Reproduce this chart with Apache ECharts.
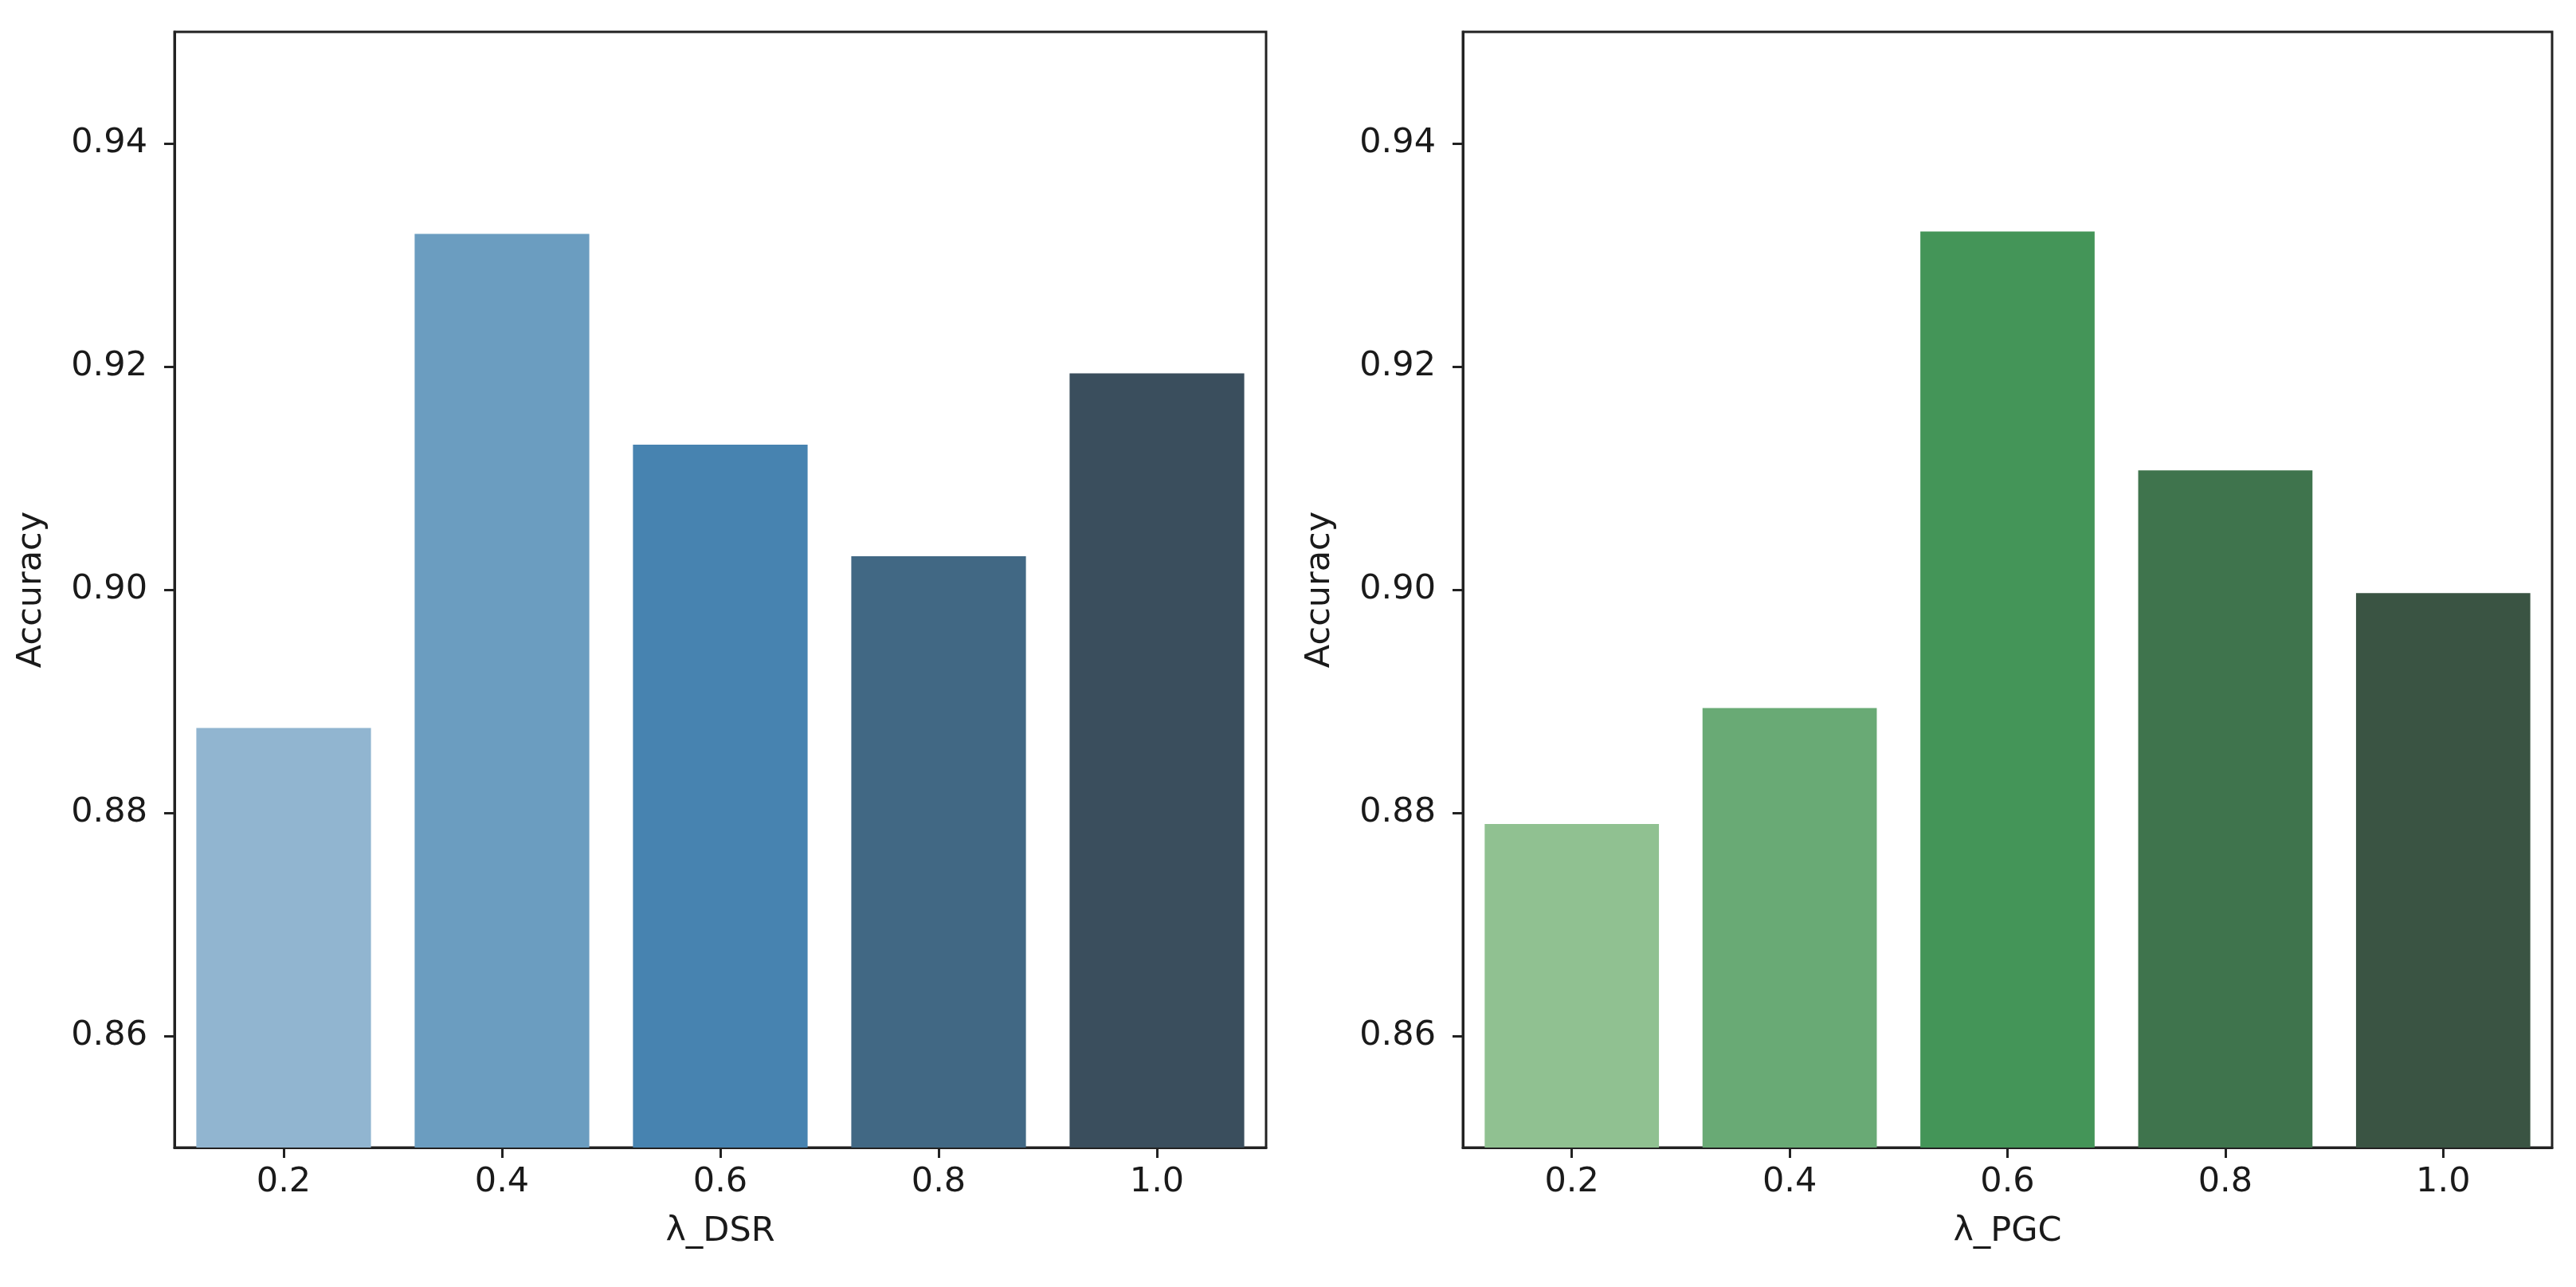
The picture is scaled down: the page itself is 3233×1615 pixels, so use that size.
<!DOCTYPE html>
<html>
<head>
<meta charset="utf-8">
<script src="https://cdn.jsdelivr.net/npm/echarts@6/dist/echarts.min.js"></script>
<style>
html,body{margin:0;padding:0;background:#fff;}
#chart{width:3233px;height:1615px;}
</style>
</head>
<body>
<div id="chart"></div>
<script>
const categories = ['0.2', '0.4', '0.6', '0.8', '1.0'];
const dsrValues = [0.8876, 0.9319, 0.9130, 0.9030, 0.9194];
const pgcValues = [0.8790, 0.8894, 0.9321, 0.9107, 0.8997];
const dsrColors = ['#91b5d0', '#6b9dc0', '#4783b0', '#416884', '#3a4e5d'];
const pgcColors = ['#90c191', '#69aa75', '#449558', '#3f744d', '#3a5443'];
const yTicks = [0.86, 0.88, 0.90, 0.92, 0.94];
const xNames = ['λ_DSR', 'λ_PGC'];
const yName = 'Accuracy';

const FONT = 'DejaVu Sans';
const FS = 43;
const textColor = '#1a1a1a';

function xAxisCfg(gridIndex, name) {
  return {
    type: 'category', gridIndex: gridIndex, data: categories,
    name: name, nameLocation: 'middle', nameGap: 84,
    nameTextStyle: {fontFamily: FONT, fontSize: FS, color: textColor},
    axisLine: {show: true, lineStyle: {color: '#222', width: 3}},
    axisTick: {show: true, alignWithLabel: true, length: 13, lineStyle: {color: '#222', width: 3}},
    axisLabel: {fontFamily: FONT, fontSize: FS, color: textColor, margin: 22},
    splitLine: {show: false}
  };
}
function yAxisCfg(gridIndex) {
  return {
    type: 'value', gridIndex: gridIndex, min: 0.85, max: 0.95,
    name: yName, nameLocation: 'middle', nameGap: 158,
    nameTextStyle: {fontFamily: FONT, fontSize: FS, color: textColor},
    axisLine: {show: true, lineStyle: {color: '#222', width: 3}},
    axisTick: {show: true, length: 13, lineStyle: {color: '#222', width: 3}, customValues: yTicks},
    axisLabel: {fontFamily: FONT, fontSize: FS, color: textColor, margin: 34, customValues: yTicks,
      formatter: v => v.toFixed(2)},
    splitLine: {show: false}
  };
}
function seriesCfg(idx, values, colors) {
  return {
    type: 'bar', xAxisIndex: idx, yAxisIndex: idx,
    barCategoryGap: '20%',
    data: values.map((v, i) => ({value: v, itemStyle: {color: colors[i]}})),
    silent: true, animation: false
  };
}

const chart = echarts.init(document.getElementById('chart'), null, {renderer: 'canvas'});
chart.setOption({
  backgroundColor: '#fff',
  animation: false,
  grid: [
    {left: 219, top: 40, width: 1370, height: 1400, show: true, borderColor: '#222', borderWidth: 3, containLabel: false},
    {left: 1836, top: 40, width: 1367, height: 1400, show: true, borderColor: '#222', borderWidth: 3, containLabel: false}
  ],
  xAxis: [xAxisCfg(0, xNames[0]), xAxisCfg(1, xNames[1])],
  yAxis: [yAxisCfg(0), yAxisCfg(1)],
  series: [seriesCfg(0, dsrValues, dsrColors), seriesCfg(1, pgcValues, pgcColors)]
});
</script>
</body>
</html>
